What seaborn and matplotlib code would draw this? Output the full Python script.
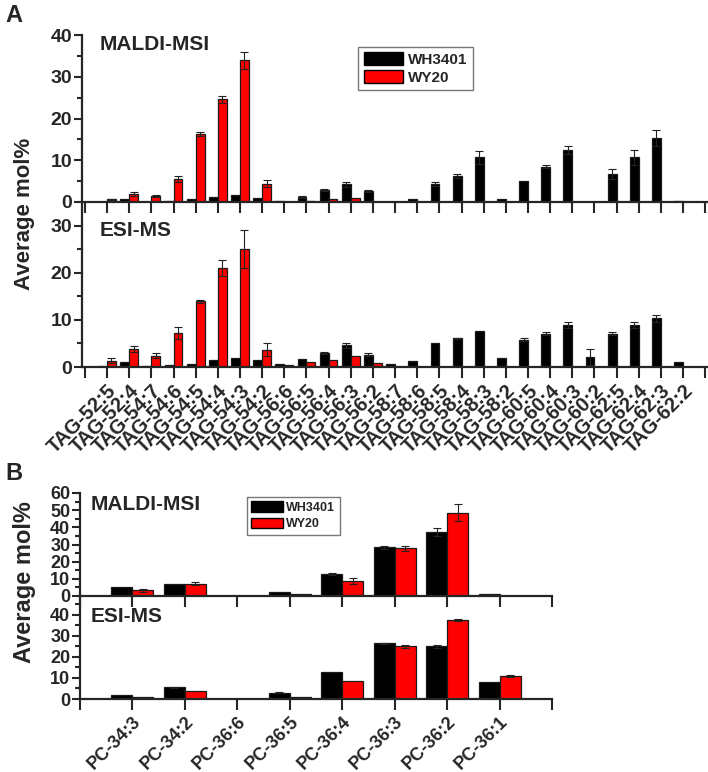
import numpy as np
import pandas as pd
import seaborn as sns
import matplotlib.pyplot as plt
from matplotlib.patches import Patch
from matplotlib.ticker import MultipleLocator

# ---- panel A: TAG species ----
tag_lipids = ['TAG-52:5', 'TAG-52:4', 'TAG-54:7', 'TAG-54:6', 'TAG-54:5', 'TAG-54:4',
              'TAG-54:3', 'TAG-54:2', 'TAG-56:6', 'TAG-56:5', 'TAG-56:4', 'TAG-56:3',
              'TAG-56:2', 'TAG-58:7', 'TAG-58:6', 'TAG-58:5', 'TAG-58:4', 'TAG-58:3',
              'TAG-58:2', 'TAG-60:5', 'TAG-60:4', 'TAG-60:3', 'TAG-60:2', 'TAG-62:5',
              'TAG-62:4', 'TAG-62:3', 'TAG-62:2']

tag_maldi_wh = [0.1, 0.65, 0.05, 0.25, 0.6, 1.2, 1.6, 1.0, 0.2, 1.2, 2.8, 4.3, 2.6, 0.1,
                0.6, 4.25, 6.25, 10.7, 0.7, 5.1, 8.5, 12.4, 0.1, 6.6, 10.7, 15.3, 0.15]
tag_maldi_wh_err = [0, 0, 0, 0, 0, 0, 0, 0, 0, 0.2, 0.2, 0.6, 0.3, 0,
                    0, 0.5, 0.5, 1.6, 0, 0, 0.3, 0.9, 0, 1.2, 1.8, 2.0, 0]
tag_maldi_wy = [0.65, 2.0, 1.45, 5.5, 16.3, 24.6, 33.9, 4.4, 0.05, 0.3, 0.6, 1.0, 0.1, 0,
                0, 0, 0, 0, 0, 0, 0, 0, 0, 0, 0, 0, 0]
tag_maldi_wy_err = [0.1, 0.5, 0.3, 0.8, 0.5, 0.8, 2.0, 0.9, 0, 0, 0, 0, 0, 0,
                    0, 0, 0, 0, 0, 0, 0, 0, 0, 0, 0, 0, 0]

tag_esi_wh = [0.3, 1.1, 0.3, 0.4, 0.7, 1.4, 1.9, 1.4, 0.55, 1.8, 3.0, 4.6, 2.6, 0.55,
              1.3, 5.1, 6.1, 7.6, 1.9, 5.8, 7.1, 8.9, 2.1, 7.1, 8.9, 10.3, 1.1]
tag_esi_wh_err = [0, 0, 0, 0, 0, 0, 0, 0, 0, 0, 0.2, 0.5, 0.3, 0,
                  0, 0, 0.1, 0, 0, 0.3, 0.3, 0.7, 1.7, 0.4, 0.7, 0.8, 0]
tag_esi_wy = [1.35, 3.8, 2.4, 7.2, 13.9, 21.0, 25.1, 3.7, 0.4, 1.0, 1.4, 2.3, 0.9, 0,
              0, 0, 0, 0, 0, 0, 0, 0, 0, 0, 0, 0, 0]
tag_esi_wy_err = [0.5, 0.6, 0.5, 1.3, 0.4, 1.6, 4.0, 1.3, 0, 0, 0, 0, 0, 0,
                  0, 0, 0, 0, 0, 0, 0, 0, 0, 0, 0, 0, 0]

# ---- panel B: PC species ----
pc_lipids = ['PC-34:3', 'PC-34:2', 'PC-36:6', 'PC-36:5', 'PC-36:4', 'PC-36:3', 'PC-36:2', 'PC-36:1']

pc_maldi_wh = [5.1, 6.8, 0, 2.1, 12.7, 28.3, 37.2, 1.0]
pc_maldi_wh_err = [0, 0, 0, 0, 0.6, 1.0, 2.5, 0.3]
pc_maldi_wy = [3.3, 7.2, 0, 1.2, 8.6, 27.9, 48.5, 0]
pc_maldi_wy_err = [1.0, 0.8, 0, 0, 1.8, 1.5, 5.0, 0]

pc_esi_wh = [2.0, 5.6, 0, 3.0, 13.0, 26.5, 25.1, 8.0]
pc_esi_wh_err = [0, 0.3, 0, 0.2, 0, 0.2, 0.8, 0]
pc_esi_wy = [1.1, 3.9, 0, 1.1, 8.5, 25.1, 37.6, 11.0]
pc_esi_wy_err = [0, 0, 0, 0, 0, 0.7, 0.5, 0.4]

strains = ['WH3401', 'WY20']
colors = {'WH3401': 'black', 'WY20': '#ff0000'}

sns.set_style('ticks')
plt.rcParams['font.family'] = ['Liberation Sans', 'DejaVu Sans']
plt.rcParams['font.weight'] = 'bold'

W, H = 708, 772
fig = plt.figure(figsize=(W / 100, H / 100), dpi=100)


def px_axes(left, top, right, bottom):
    ax = fig.add_axes([left / W, 1 - bottom / H, (right - left) / W, (bottom - top) / H])
    ax.patch.set_alpha(0)
    return ax


def draw(ax, lipids, wh, wh_err, wy, wy_err, ylim, xlim, title, title_pos, tick_size,
         labels=False, label_size=12):
    df = pd.DataFrame({
        'lipid': lipids * 2,
        'strain': [strains[0]] * len(lipids) + [strains[1]] * len(lipids),
        'value': list(wh) + list(wy),
    })
    sns.barplot(data=df, x='lipid', y='value', hue='strain', order=lipids,
                hue_order=strains, palette=colors, saturation=1, width=0.8,
                edgecolor='#1a1a1a', linewidth=0.9, errorbar=None, legend=False, ax=ax)
    for cont, errs in zip(ax.containers, [wh_err, wy_err]):
        for bar, e in zip(cont, errs):
            if e > 0:
                ax.errorbar(bar.get_x() + bar.get_width() / 2, bar.get_height(), yerr=e,
                            fmt='none', ecolor='#222222', elinewidth=0.8, capsize=3,
                            capthick=0.8, zorder=5)
    ax.set_xlim(*xlim)
    ax.set_ylim(*ylim)
    n = len(lipids)
    ax.set_xticks(range(-1, n + 1))
    if labels:
        ax.set_xticklabels([''] + lipids + [''], rotation=45, ha='right',
                           rotation_mode='anchor', fontsize=label_size, fontweight='bold')
    else:
        ax.set_xticklabels([])
    ax.yaxis.set_major_locator(MultipleLocator(10))
    ax.yaxis.set_minor_locator(MultipleLocator(5))
    ax.tick_params(axis='x', length=8, width=1.5, direction='out', pad=2)
    ax.tick_params(axis='y', which='major', length=6, width=1.5, labelsize=tick_size, pad=1)
    ax.tick_params(axis='y', which='minor', length=3.5, width=1.5)
    for lab in ax.get_yticklabels():
        lab.set_fontweight('bold')
    sns.despine(ax=ax)
    for s in ['left', 'bottom']:
        ax.spines[s].set_linewidth(1.6)
    ax.set_xlabel('')
    ax.set_ylabel('')
    ax.text(title_pos[0], title_pos[1], title, transform=ax.transAxes, fontsize=15,
            fontweight='bold', va='top', ha='left')


# panel A
axA1 = px_axes(82, 35, 707, 202)
draw(axA1, tag_lipids, tag_maldi_wh, tag_maldi_wh_err, tag_maldi_wy, tag_maldi_wy_err,
     (0, 40), (-1.13, 27.08), 'MALDI-MSI', (0.028, 1.0), 14)
axA2 = px_axes(82, 202, 707, 367)
draw(axA2, tag_lipids, tag_esi_wh, tag_esi_wh_err, tag_esi_wy, tag_esi_wy_err,
     (0, 35), (-1.13, 27.08), 'ESI-MS', (0.028, 0.885), 14, labels=True, label_size=14.5)

handles = [Patch(facecolor=colors[s], edgecolor='black', label=s) for s in strains]
axA1.legend(handles=handles, loc='upper left', bbox_to_anchor=(0.442, 0.928),
            borderaxespad=0, fancybox=False, edgecolor='#777777', framealpha=1,
            prop={'weight': 'bold', 'size': 11}, handlelength=2.6, handleheight=0.9,
            handletextpad=0.3, labelspacing=0.2, borderpad=0.35)

# panel B
axB1 = px_axes(80, 493, 552, 596)
draw(axB1, pc_lipids, pc_maldi_wh, pc_maldi_wh_err, pc_maldi_wy, pc_maldi_wy_err,
     (0, 60), (-1, 8), 'MALDI-MSI', (0.022, 0.98), 13)
axB2 = px_axes(80, 596, 552, 699)
draw(axB2, pc_lipids, pc_esi_wh, pc_esi_wh_err, pc_esi_wy, pc_esi_wy_err,
     (0, 49), (-1, 8), 'ESI-MS', (0.022, 0.89), 13, labels=True, label_size=13)

axB1.legend(handles=handles, loc='upper left', bbox_to_anchor=(0.354, 0.96),
            borderaxespad=0, fancybox=False, edgecolor='#777777', framealpha=1,
            prop={'weight': 'bold', 'size': 9}, handlelength=2.5, handleheight=0.9,
            handletextpad=0.3, labelspacing=0.3, borderpad=0.35)

# panel letters and shared y labels
fig.text(5 / W, 1 - 16 / H, 'A', fontsize=17, fontweight='bold', va='center', ha='left')
fig.text(5 / W, 1 - 474 / H, 'B', fontsize=17, fontweight='bold', va='center', ha='left')
fig.text(25 / W, 1 - 214 / H, 'Average mol%', rotation=90, fontsize=16, fontweight='bold',
         va='center', ha='center')
fig.text(25 / W, 1 - 582 / H, 'Average mol%', rotation=90, fontsize=17, fontweight='bold',
         va='center', ha='center')

fig.savefig('out.png', dpi=100)
